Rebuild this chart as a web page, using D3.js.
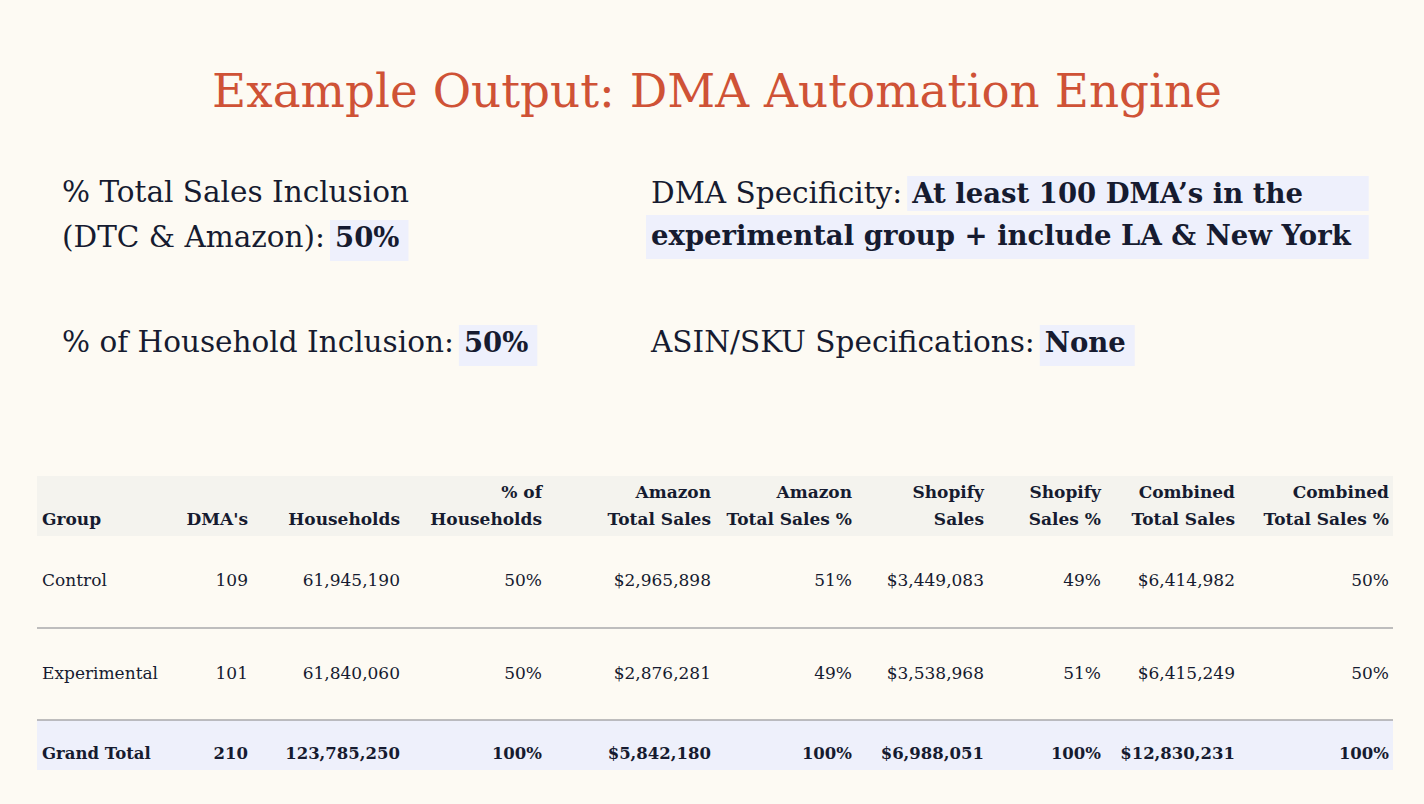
<!DOCTYPE html>
<html>
<head>
<meta charset="utf-8">
<script src="https://cdn.jsdelivr.net/npm/d3@7"></script>
<style>
  html, body { margin: 0; padding: 0; background: #fdfaf3; }
  svg { display: block; }
</style>
</head>
<body>
<div class="containers"></div>
<script>
// ---- data ----
const title = 'Example Output: DMA Automation Engine'

const criteria = [
  { label: ['% Total Sales Inclusion', '(DTC & Amazon):'], value: ['50%'] },
  { label: ['DMA Specificity:'], value: ['At least 100 DMA\u2019s in the', 'experimental group + include LA & New York'] },
  { label: ['% of Household Inclusion:'], value: ['50%'] },
  { label: ['ASIN/SKU Specifications:'], value: ['None'] }
]

const headers = [
  ['', 'Group'], ['', "DMA's"], ['', 'Households'], ['% of', 'Households'],
  ['Amazon', 'Total Sales'], ['Amazon', 'Total Sales %'], ['Shopify', 'Sales'],
  ['Shopify', 'Sales %'], ['Combined', 'Total Sales'], ['Combined', 'Total Sales %']
]
const groups = ['Control', 'Experimental', 'Grand Total']
const dmas = [109, 101, 210]
const households = [61945190, 61840060, 123785250]
const pctHouseholds = [50, 50, 100]
const amazonSales = [2965898, 2876281, 5842180]
const amazonPct = [51, 49, 100]
const shopifySales = [3449083, 3538968, 6988051]
const shopifyPct = [49, 51, 100]
const combinedSales = [6414982, 6415249, 12830231]
const combinedPct = [50, 50, 100]

// ---- layout ----
const width = 1424
const height = 804
const font = "'DejaVu Serif', serif"
const ink = '#161b30'
const hiFill = '#eef0fc'

const svg = d3.select('.containers')
  .append('svg')
  .attr('width', width)
  .attr('height', height)
  .style('background', '#fdfaf3')

svg.append('text')
  .attr('x', 717)
  .attr('y', 107)
  .attr('text-anchor', 'middle')
  .attr('font-family', font)
  .attr('font-size', 46)
  .attr('fill', '#cf5236')
  .attr('textLength', 1010)
  .attr('lengthAdjust', 'spacingAndGlyphs')
  .text(title)

// criteria blocks: x, first baseline
const critPos = [[62, 202], [651, 203], [62, 352], [651, 352]]
const lineH = 42
const labelSize = 29.5
const valueSize = 27.5

criteria.forEach((c, i) => {
  const [x0, y0] = critPos[i]
  const g = svg.append('g')
  const hi = g.append('g')
  let endX = x0
  c.label.forEach((l, j) => {
    const t = g.append('text')
      .attr('x', x0).attr('y', y0 + j * 45)
      .attr('font-family', font).attr('font-size', labelSize)
      .attr('fill', ink)
      .text(l)
    endX = x0 + t.node().getComputedTextLength()
  })
  const baseY = y0 + (c.label.length - 1) * 45
  const vx = endX + 10
  const vts = c.value.map((v, j) => {
    const lx = j === 0 ? vx : x0
    const y = baseY + j * lineH
    const t = g.append('text')
      .attr('x', lx).attr('y', y)
      .attr('font-family', font).attr('font-size', valueSize)
      .attr('font-weight', 'bold')
      .attr('fill', ink)
      .text(v)
    return { x: lx, w: t.node().getComputedTextLength(), y }
  })
  const right = d3.max(vts, d => d.x + d.w) + (vts.length > 1 ? 18 : 9)
  vts.forEach((d, j) => {
    const left = d.x - 5
    const top = j === 0 ? d.y - 27 : d.y - 30
    const bottom = j === vts.length - 1 ? d.y + 14 : d.y + 8
    hi.append('rect')
      .attr('x', left).attr('y', top)
      .attr('width', right - left)
      .attr('height', bottom - top)
      .attr('fill', hiFill)
  })
})

// ---- table ----
const fmtInt = d3.format(',')
const fmtUsd = v => '$' + d3.format(',')(v)
const fmtPct = v => v + '%'

const columns = [
  { vals: groups, fmt: d => d },
  { vals: dmas, fmt: fmtInt },
  { vals: households, fmt: fmtInt },
  { vals: pctHouseholds, fmt: fmtPct },
  { vals: amazonSales, fmt: fmtUsd },
  { vals: amazonPct, fmt: fmtPct },
  { vals: shopifySales, fmt: fmtUsd },
  { vals: shopifyPct, fmt: fmtPct },
  { vals: combinedSales, fmt: fmtUsd },
  { vals: combinedPct, fmt: fmtPct }
]
const colX = d3.scaleOrdinal()
  .domain(d3.range(columns.length))
  .range([42, 248, 400, 542, 711, 852, 984, 1101, 1235, 1389])
const rowY = d3.scaleOrdinal()
  .domain(d3.range(groups.length))
  .range([586, 679, 759])

const tableLeft = 37
const tableRight = 1393

svg.append('rect')
  .attr('x', tableLeft).attr('y', 476)
  .attr('width', tableRight - tableLeft).attr('height', 60)
  .attr('fill', '#f4f3ee')

svg.append('rect')
  .attr('x', tableLeft).attr('y', 720)
  .attr('width', tableRight - tableLeft).attr('height', 50)
  .attr('fill', '#eef0fb')

svg.selectAll('line.sep')
  .data([628, 720])
  .join('line')
  .attr('class', 'sep')
  .attr('x1', tableLeft).attr('x2', tableRight)
  .attr('y1', d => d).attr('y2', d => d)
  .attr('stroke', '#a9a9ab')
  .attr('stroke-width', 1.5)

const head = svg.append('g')
  .selectAll('g')
  .data(headers)
  .join('g')

head.selectAll('text')
  .data((d, i) => d.map((s, j) => ({ s, j, i })))
  .join('text')
  .attr('x', d => colX(d.i))
  .attr('y', d => d.j === 0 ? 498 : 525)
  .attr('text-anchor', d => d.i === 0 ? 'start' : 'end')
  .attr('font-family', font)
  .attr('font-size', 17)
  .attr('font-weight', 'bold')
  .attr('fill', ink)
  .text(d => d.s)

const body = svg.append('g')
  .selectAll('g')
  .data(columns)
  .join('g')

body.selectAll('text')
  .data((c, i) => c.vals.map((v, r) => ({ t: c.fmt(v), r, i })))
  .join('text')
  .attr('x', d => colX(d.i))
  .attr('y', d => rowY(d.r))
  .attr('text-anchor', d => d.i === 0 ? 'start' : 'end')
  .attr('font-family', font)
  .attr('font-size', d => d.r === groups.length - 1 ? 16.5 : 17)
  .attr('font-weight', d => d.r === groups.length - 1 ? 'bold' : 'normal')
  .attr('fill', ink)
  .text(d => d.t)
</script>
</body>
</html>
